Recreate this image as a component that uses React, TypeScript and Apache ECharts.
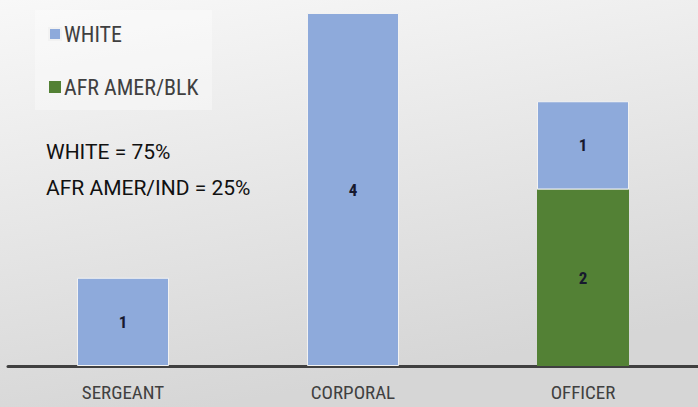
import React, { useEffect, useRef } from "react";
import * as echarts from "echarts";

const categories = ["SERGEANT", "CORPORAL", "OFFICER"];
const whiteValues = [1, 4, 1];
const blackValues = [0, 0, 2];
const seriesNames = ["WHITE", "AFR AMER/BLK"];
const noteLines = ["WHITE = 75%", "AFR AMER/IND = 25%"];

const COND = "'Roboto Condensed', 'Roboto', sans-serif";
const REG = "'Roboto', 'Open Sans', sans-serif";

export default function App() {
  const ref = useRef<HTMLDivElement>(null);
  useEffect(() => {
    if (!ref.current) return;
    const chart = echarts.init(ref.current, null, { renderer: "svg" });
    const label = {
      show: true,
      position: "inside",
      fontFamily: COND,
      fontSize: 17,
      fontWeight: "bold",
      color: "#17192e",
    };
    chart.setOption({
      animation: false,
      backgroundColor: {
        type: "linear",
        x: 0, y: 0, x2: 0.3, y2: 1,
        colorStops: [
          { offset: 0, color: "#f8f8f8" },
          { offset: 1, color: "#d6d6d6" },
        ],
      },
      grid: { left: 8, width: 694, top: 13, bottom: 41 },
      legend: {
        orient: "vertical",
        left: 43,
        top: 18,
        itemWidth: 12,
        itemHeight: 12,
        itemGap: 31,
        icon: "rect",
        data: [seriesNames[0], seriesNames[1]],
        textStyle: { fontFamily: COND, fontSize: 22, color: "#404040", lineHeight: 22, padding: [0, 0, 0, -2] },
      },
      graphic: [
        {
          type: "rect",
          z: -1,
          shape: { x: 35, y: 10, width: 177, height: 100 },
          style: { fill: "rgba(255,255,255,0.35)" },
        },
        {
          type: "text",
          left: 46,
          top: 134,
          style: {
            text: noteLines.join("\n"),
            fontFamily: REG,
            fontSize: 21,
            lineHeight: 36,
            fill: "#111111",
          },
        },
      ],
      xAxis: {
        type: "category",
        data: categories,
        axisLine: { lineStyle: { color: "#404040", width: 3 } },
        axisTick: { show: false },
        axisLabel: { fontFamily: COND, fontSize: 19, color: "#404040", margin: 17 },
      },
      yAxis: {
        type: "value",
        min: 0,
        max: 4,
        show: false,
        splitLine: { show: false },
      },
      series: [
        {
          name: seriesNames[1],
          type: "bar",
          stack: "total",
          barWidth: 92,
          data: blackValues.map((v) => (v === 0 ? null : v)),
          itemStyle: { color: "#538135" },
          label,
        },
        {
          name: seriesNames[0],
          type: "bar",
          stack: "total",
          barWidth: 92,
          data: whiteValues,
          itemStyle: { color: "#8eaadb", borderColor: "#f2f2f2", borderWidth: 1 },
          label,
        },
      ],
    });
    return () => chart.dispose();
  }, []);
  return <div ref={ref} style={{ width: 698, height: 407, position: "fixed", left: 0, top: 0 }} />;
}
